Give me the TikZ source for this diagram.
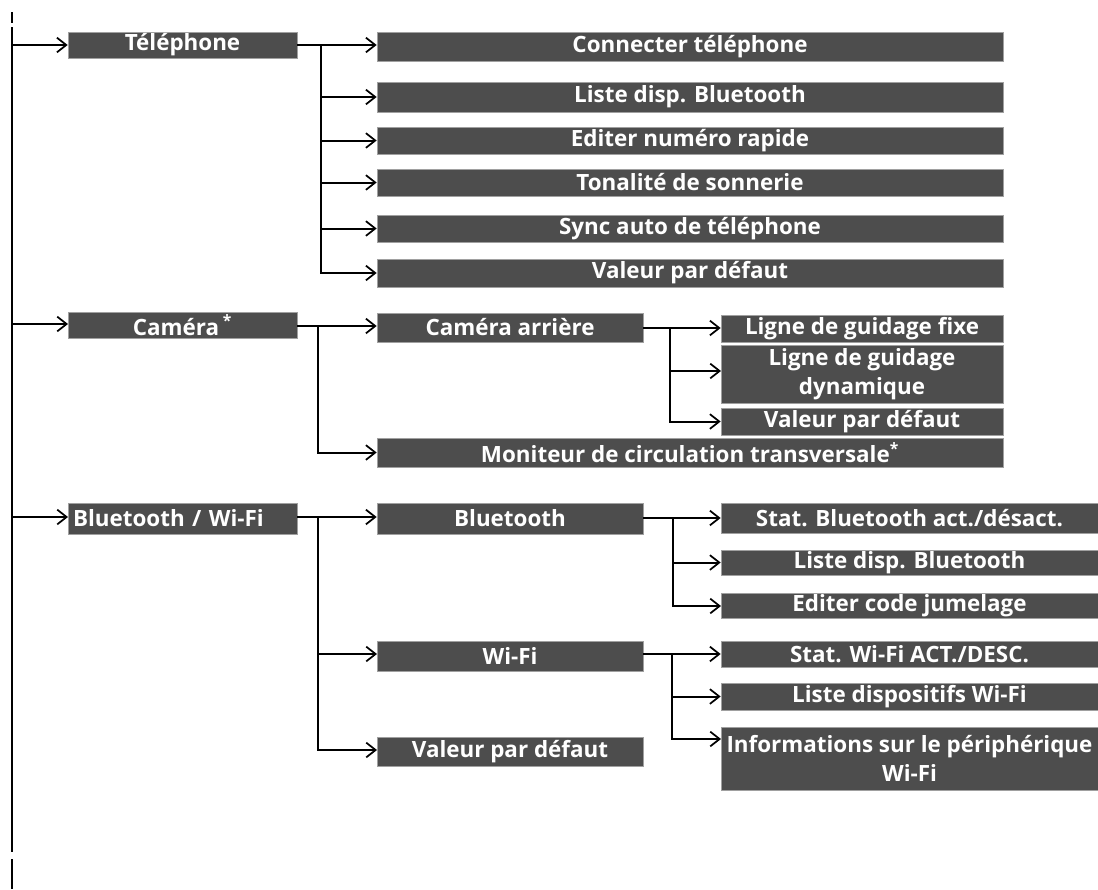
\documentclass[tikz,border=0pt]{standalone}
\usepackage{fontspec}
\setmainfont{Open Sans}
\usetikzlibrary{arrows.meta}
\definecolor{boxgray}{HTML}{4D4D4D}
\definecolor{boxedge}{HTML}{A0A0A0}
\tikzset{
  bx/.style={fill=boxgray, draw=boxedge, line width=0.5pt, text=white,
    font=\bfseries\fontsize{16.8}{21.5}\selectfont, inner sep=0pt, align=center},
  conn/.style={line width=1.5pt, black},
  arr/.style={conn, -{Straight Barb[length=7pt,width=11pt,line width=1.3pt]}},
}
\newcommand\mybox[7][]{\node[bx, minimum width={(#5-#3)*0.75pt}, minimum height={(#6-#4)*0.75pt}, #1] (#2) at ({(#3+#5)/2},{(#4+#6)/2}) {#7};}
\begin{document}
\begin{tikzpicture}[x=0.75pt,y=-0.75pt]
\useasboundingbox (0,0) rectangle (1098,889);
% spine
\coordinate (sp0) at (12,12); \coordinate (sp1) at (12,23);
\coordinate (sp2) at (12,27); \coordinate (sp3) at (12,852);
\coordinate (sp4) at (12,859); \coordinate (sp5) at (12,889);
\draw[conn] (sp0) -- (sp1) (sp2) -- (sp3) (sp4) -- (sp5);

% Telephone
\mybox{tel}{68}{32}{297}{58}{Téléphone}
\mybox{t1}{377}{32}{1003}{61}{Connecter téléphone}
\mybox{t2}{377}{82}{1003}{112}{Liste disp. Bluetooth}
\mybox{t3}{377}{127}{1003}{154}{Editer numéro rapide}
\mybox{t4}{377}{169}{1003}{196}{Tonalité de sonnerie}
\mybox{t5}{377}{215}{1003}{242}{Sync auto de téléphone}
\mybox{t6}{377}{259}{1003}{287}{Valeur par défaut}

% Camera
\mybox{cam}{68}{312}{297}{338}{Caméra\,\textsuperscript{*}}
\mybox{ca}{377}{313}{643}{342}{Caméra arrière}
\mybox{mon}{377}{438}{1003}{467}{Moniteur de circulation transversale\textsuperscript{*}}
\mybox{g1}{721}{315}{1003}{342}{Ligne de guidage fixe}
\mybox{g2}{721}{345}{1003}{403}{Ligne de guidage\\dynamique}
\mybox{g3}{721}{408}{1003}{435}{Valeur par défaut}

% Bluetooth / Wi-Fi
\mybox[text width={219*0.75pt}, align=left]{bw}{68}{503}{297}{534}{Bluetooth / Wi-Fi}
\mybox{bt}{377}{503}{643}{534}{Bluetooth}
\mybox{wf}{377}{641}{643}{671}{Wi-Fi}
\mybox{vd}{377}{737}{643}{766}{Valeur par défaut}
\mybox{b1}{721}{503}{1098}{533}{Stat. Bluetooth act./désact.}
\mybox{b2}{721}{550}{1098}{575}{Liste disp. Bluetooth}
\mybox{b3}{721}{593}{1098}{618}{Editer code jumelage}
\mybox{w1}{721}{641}{1098}{667}{Stat. Wi-Fi ACT./DESC.}
\mybox{w2}{721}{683}{1098}{710}{Liste dispositifs Wi-Fi}
\mybox{w3}{721}{727}{1098}{790}{Informations sur le périphérique\\Wi-Fi}

% top-level arrows from spine
\draw[arr] (sp2 |- tel.west) -- (tel.west);
\coordinate (camin) at (68,324);
\draw[arr] (sp2 |- camin) -- (camin);
\coordinate (bwin) at (68,517);
\draw[arr] (sp2 |- bwin) -- (bwin);

% Telephone branch
\coordinate (bT) at (321,45);
\draw[conn] (tel.east) -- (bT);
\draw[arr] (bT) -- (bT -| t1.west);
\foreach \n in {t2,t3,t4,t5,t6} \draw[arr] (bT) |- (\n.west);

% Camera branch
\coordinate (bC) at (318,326);
\draw[conn] (tel.east |- bC) -- (bC);
\draw[arr] (bC) -- (bC -| ca.west);
\draw[arr] (bC) |- (mon.west);
\coordinate (bCa) at (670,328);
\draw[conn] (ca.east |- bCa) -- (bCa);
\draw[arr] (bCa) -- (bCa -| g1.west);
\coordinate (g2in) at (721,371);
\draw[arr] (bCa) |- (g2in);
\draw[arr] (bCa) |- (g3.west);

% Bluetooth / Wi-Fi branch
\coordinate (bB) at (318,517);
\draw[conn] (bw.east |- bB) -- (bB);
\draw[arr] (bB) -- (bB -| bt.west);
\coordinate (wfin) at (377,654);
\draw[arr] (bB) |- (wfin);
\coordinate (vdin) at (377,750);
\draw[arr] (bB) |- (vdin);

\coordinate (bBt) at (673,518);
\draw[conn] (bt.east |- bBt) -- (bBt);
\draw[arr] (bBt) -- (bBt -| b1.west);
\draw[arr] (bBt) |- (b2.west);
\coordinate (b3in) at (721,606);
\draw[arr] (bBt) |- (b3in);

\coordinate (bW) at (672,654);
\draw[conn] (wf.east |- bW) -- (bW);
\draw[arr] (bW) -- (bW -| w1.west);
\draw[arr] (bW) |- (w2.west);
\coordinate (w3in) at (721,739);
\draw[arr] (bW) |- (w3in);
\end{tikzpicture}
\end{document}
